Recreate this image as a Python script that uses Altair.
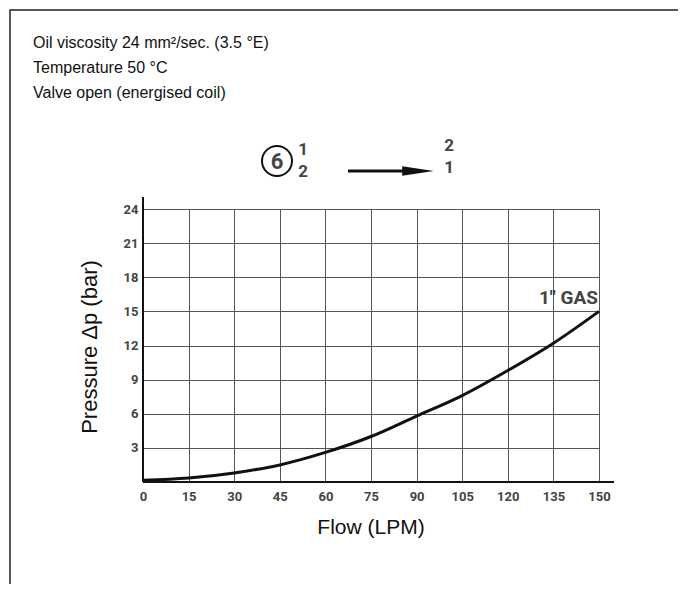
import altair as alt
import pandas as pd

# ---- data ----
flow = [0, 15, 30, 45, 60, 75, 90, 105, 120, 135, 150]
pressure = [0.15, 0.35, 0.8, 1.5, 2.6, 4.0, 5.8, 7.6, 9.8, 12.2, 15.0]
x_ticks = [0, 15, 30, 45, 60, 75, 90, 105, 120, 135, 150]
y_ticks = [3, 6, 9, 12, 15, 18, 21, 24]
header_lines = ["Oil viscosity 24 mm²/sec. (3.5 °E)", "Temperature 50 °C", "Valve open (energised coil)"]
curve_label = "1\" GAS"
x_title = "Flow (LPM)"
y_title = "Pressure Δp (bar)"
symbol_texts = ["6", "1", "2", "2", "1"]

W, H = 456, 273
df = pd.DataFrame({"flow": flow, "pressure": pressure})

NARROW = "Roboto, Liberation Sans, sans-serif"
SANS = "Liberation Sans, Arial, sans-serif"

xs = alt.Scale(domain=[0, 150], nice=False)
ys = alt.Scale(domain=[0, 24], nice=False)

one = pd.DataFrame({"a": [0]})

axis_common = dict(
    title=None, grid=True, ticks=False, domain=False,
    gridColor="#555", gridWidth=1, gridOpacity=1,
    labelFont=NARROW, labelFontSize=13, labelFontWeight="bold", labelColor="#444",
    labelOverlap=False, labelFlush=False, labelBound=False,
)

curve = alt.Chart(df).mark_line(color="#111", strokeWidth=3, interpolate="monotone").encode(
    x=alt.X("flow:Q", scale=xs, axis=alt.Axis(values=x_ticks, labelPadding=8, **axis_common)),
    y=alt.Y("pressure:Q", scale=ys, axis=alt.Axis(values=y_ticks, labelPadding=5, **axis_common)),
)


def txt(t, x, y, **kw):
    return alt.Chart(one).mark_text(text=t, **kw).encode(x=alt.value(x), y=alt.value(y))


# axis lines (extended like the reference)
y_axis_line = alt.Chart(one).mark_rule(color="#111", strokeWidth=2).encode(
    x=alt.value(0), y=alt.value(-12), y2=alt.value(H))
x_axis_line = alt.Chart(one).mark_rule(color="#111", strokeWidth=2).encode(
    x=alt.value(0), x2=alt.value(W + 15), y=alt.value(H))

label = txt(curve_label, W - 1, 89, align="right", baseline="middle", font=NARROW,
            fontSize=19, fontWeight="bold", color="#444")

hdr_kw = dict(align="left", baseline="middle", font=SANS, fontSize=16, color="#111")
headers = [txt(t, -110, yy, **hdr_kw) for t, yy in zip(header_lines, [-166, -141, -116])]

xt = txt(x_title, W / 2, 319, align="center", baseline="middle", font=SANS, fontSize=21, color="#111")
yt = txt(y_title, -53, 138, align="center", baseline="middle", font=SANS, fontSize=22,
         color="#111", angle=270)

# port symbol: circled 6, 1/2 -> 2/1
circ = alt.Chart(one).mark_point(
    shape="circle", size=900, filled=False, color="#111", strokeWidth=2, opacity=1
).encode(x=alt.value(134), y=alt.value(-48))
sym_pos = [(134, -47, 22), (160, -59, 17), (160, -37, 17), (306, -63, 17), (306, -41, 17)]
syms = [txt(t, px, py, align="center", baseline="middle", font=NARROW, fontWeight="bold",
            fontSize=fs, color="#444") for t, (px, py, fs) in zip(symbol_texts, sym_pos)]
arrow = alt.Chart(one).mark_rule(color="#111", strokeWidth=3).encode(
    x=alt.value(205), x2=alt.value(270), y=alt.value(-38))
head = alt.Chart(one).mark_point(
    shape="M -1 -0.3 L 1 0 L -1 0.3 Z", size=1000, filled=True, color="#111", opacity=1
).encode(x=alt.value(275), y=alt.value(-38))

border = alt.Chart(one).mark_rect(
    fill=None, fillOpacity=0, stroke="#222", strokeWidth=1.5
).encode(x=alt.value(-133), x2=alt.value(537), y=alt.value(-199), y2=alt.value(420))

chart = alt.layer(border, curve, y_axis_line, x_axis_line, label, *headers, xt, yt,
                  circ, *syms, arrow, head).properties(
    width=W, height=H,
    autosize=alt.AutoSizeParams(type="none"),
    padding={"left": 135, "top": 201, "right": 79, "bottom": 102},
).configure_view(stroke=None).configure(background="white")

chart.save("out.html", embed_options={"renderer": "svg", "actions": False})
